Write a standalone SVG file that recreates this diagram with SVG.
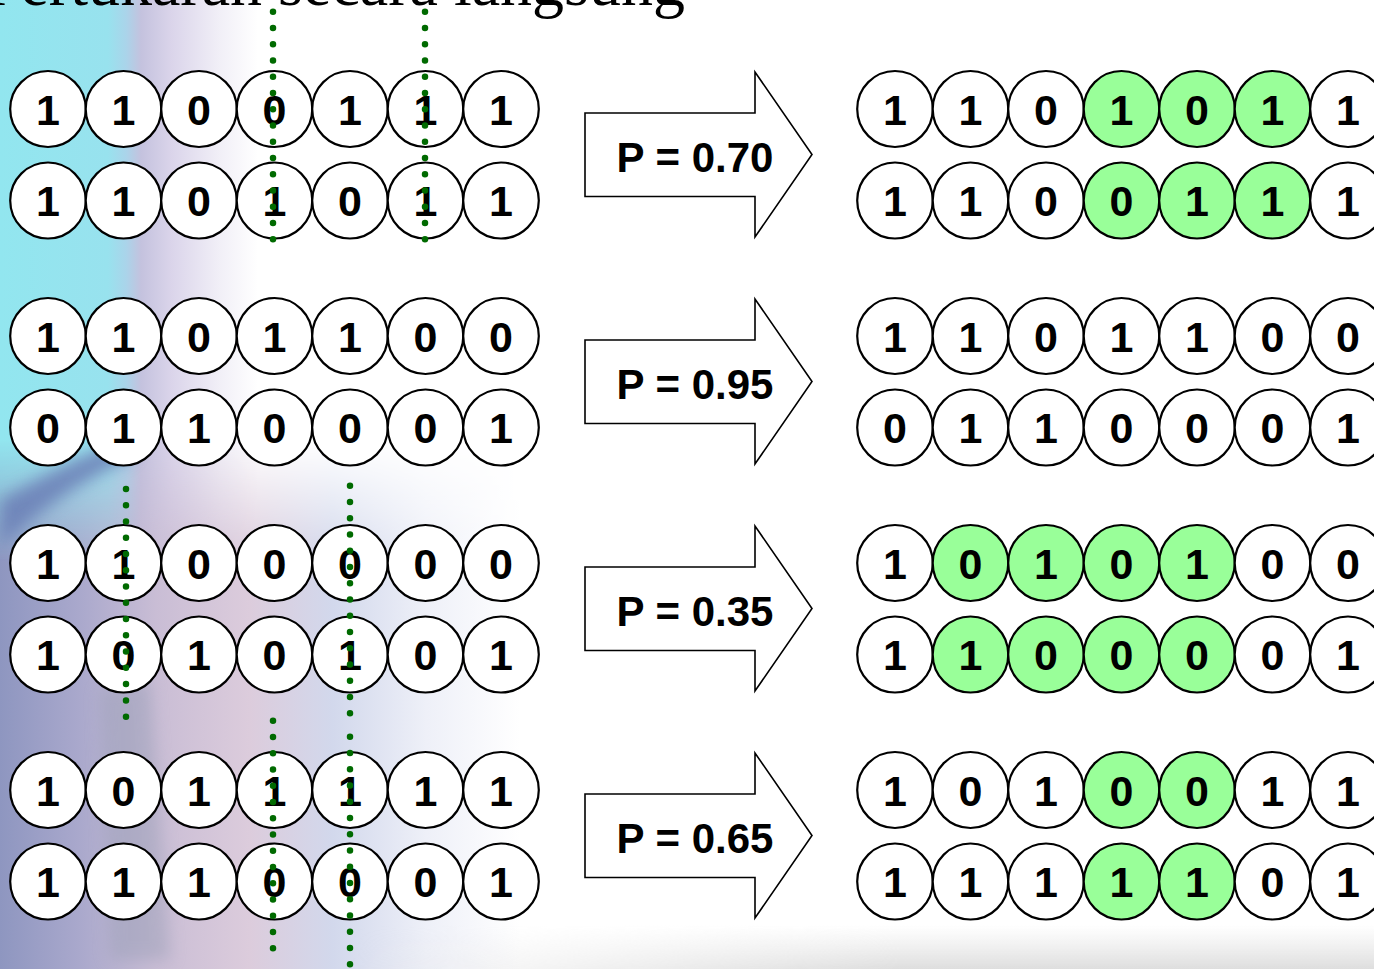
<svg xmlns="http://www.w3.org/2000/svg" width="1374" height="969" viewBox="0 0 1374 969">
<style>
.c{fill:#fff;stroke:#000;stroke-width:2.2}
.g{fill:#99FF99;stroke:#000;stroke-width:2.2}
.d{font-family:"Liberation Sans",Arial,sans-serif;font-weight:bold;font-size:43px;text-anchor:middle;fill:#000}
.arr{fill:#fff;stroke:#000;stroke-width:1.6}
.pt{font-family:"Liberation Sans",Arial,sans-serif;font-weight:bold;font-size:42px;text-anchor:middle;fill:#000}
.dot{fill:none;stroke:#006A00;stroke-width:6.5;stroke-linecap:round;stroke-dasharray:0 16.26}
.title{font-family:"Liberation Serif","Times New Roman",serif;font-size:64px;fill:#000}
</style>
<defs>
<linearGradient id="gTop" gradientUnits="userSpaceOnUse" x1="0" y1="0" x2="300" y2="0">
<stop offset="0" stop-color="#92E6EF"/>
<stop offset="0.36" stop-color="#98E2EE"/>
<stop offset="0.42" stop-color="#AAD4EA"/>
<stop offset="0.47" stop-color="#C4C2DE"/>
<stop offset="0.57" stop-color="#DAD4EA"/>
<stop offset="0.73" stop-color="#F1EFF7"/>
<stop offset="0.86" stop-color="#FFFFFF"/>
</linearGradient>
<linearGradient id="gBot" gradientUnits="userSpaceOnUse" x1="0" y1="0" x2="520" y2="0">
<stop offset="0" stop-color="#8E96C0"/>
<stop offset="0.15" stop-color="#A9A8CC"/>
<stop offset="0.3" stop-color="#C9BDD5"/>
<stop offset="0.48" stop-color="#DCCCDC"/>
<stop offset="0.64" stop-color="#D2D8EC"/>
<stop offset="0.82" stop-color="#EEF0F8"/>
<stop offset="1" stop-color="#FFFFFF"/>
</linearGradient>
<linearGradient id="fadeV" gradientUnits="userSpaceOnUse" x1="0" y1="440" x2="0" y2="560">
<stop offset="0" stop-color="#fff" stop-opacity="0"/>
<stop offset="1" stop-color="#fff" stop-opacity="1"/>
</linearGradient>
<mask id="mBot"><rect x="0" y="420" width="700" height="560" fill="url(#fadeV)"/></mask>
<linearGradient id="gStrip" x1="0" y1="0" x2="0" y2="1">
<stop offset="0" stop-color="#E4E4E4" stop-opacity="0"/>
<stop offset="1" stop-color="#DEDEDE" stop-opacity="1"/>
</linearGradient>
<linearGradient id="fadeH" gradientUnits="userSpaceOnUse" x1="350" y1="0" x2="900" y2="0">
<stop offset="0" stop-color="#fff" stop-opacity="0"/>
<stop offset="1" stop-color="#fff" stop-opacity="1"/>
</linearGradient>
<mask id="mStrip"><rect x="0" y="900" width="1374" height="69" fill="url(#fadeH)"/></mask>
<filter id="blur" x="-50%" y="-50%" width="200%" height="200%"><feGaussianBlur stdDeviation="8"/></filter>
</defs>

<g id="background">
<rect width="1374" height="969" fill="#fff"/>
<rect x="0" y="0" width="400" height="580" fill="url(#gTop)"/>
<rect x="0" y="420" width="600" height="549" fill="url(#gBot)" mask="url(#mBot)"/>
<path d="M0,500 C40,478 80,455 125,440 L135,456 C90,476 45,505 0,548 Z" fill="#6A7EB6" filter="url(#blur)" opacity="0.85"/>
<path d="M100,690 L150,680 L170,960 L110,960 Z" fill="#9CA0B8" filter="url(#blur)" opacity="0.5"/>
<rect x="0" y="925" width="1374" height="44" fill="url(#gStrip)" mask="url(#mStrip)"/>
</g>

<text class="title" x="685" y="5" text-anchor="end">Pertukaran secara langsung</text>

<g id="pair1-left">
<g id="p1-a-0"><ellipse class="c" cx="48" cy="109" rx="37.8" ry="38"/><text class="d" x="48" y="124.5">1</text></g>
<g id="p1-a-1"><ellipse class="c" cx="123.5" cy="109" rx="37.8" ry="38"/><text class="d" x="123.5" y="124.5">1</text></g>
<g id="p1-a-2"><ellipse class="c" cx="199" cy="109" rx="37.8" ry="38"/><text class="d" x="199" y="124.5">0</text></g>
<g id="p1-a-3"><ellipse class="c" cx="274.5" cy="109" rx="37.8" ry="38"/><text class="d" x="274.5" y="124.5">0</text></g>
<g id="p1-a-4"><ellipse class="c" cx="350" cy="109" rx="37.8" ry="38"/><text class="d" x="350" y="124.5">1</text></g>
<g id="p1-a-5"><ellipse class="c" cx="425.5" cy="109" rx="37.8" ry="38"/><text class="d" x="425.5" y="124.5">1</text></g>
<g id="p1-a-6"><ellipse class="c" cx="501" cy="109" rx="37.8" ry="38"/><text class="d" x="501" y="124.5">1</text></g>
<g id="p1-b-0"><ellipse class="c" cx="48" cy="200.5" rx="37.8" ry="38"/><text class="d" x="48" y="216">1</text></g>
<g id="p1-b-1"><ellipse class="c" cx="123.5" cy="200.5" rx="37.8" ry="38"/><text class="d" x="123.5" y="216">1</text></g>
<g id="p1-b-2"><ellipse class="c" cx="199" cy="200.5" rx="37.8" ry="38"/><text class="d" x="199" y="216">0</text></g>
<g id="p1-b-3"><ellipse class="c" cx="274.5" cy="200.5" rx="37.8" ry="38"/><text class="d" x="274.5" y="216">1</text></g>
<g id="p1-b-4"><ellipse class="c" cx="350" cy="200.5" rx="37.8" ry="38"/><text class="d" x="350" y="216">0</text></g>
<g id="p1-b-5"><ellipse class="c" cx="425.5" cy="200.5" rx="37.8" ry="38"/><text class="d" x="425.5" y="216">1</text></g>
<g id="p1-b-6"><ellipse class="c" cx="501" cy="200.5" rx="37.8" ry="38"/><text class="d" x="501" y="216">1</text></g>
</g>

<g id="pair2-left">
<g id="p2-a-0"><ellipse class="c" cx="48" cy="336" rx="37.8" ry="38"/><text class="d" x="48" y="351.5">1</text></g>
<g id="p2-a-1"><ellipse class="c" cx="123.5" cy="336" rx="37.8" ry="38"/><text class="d" x="123.5" y="351.5">1</text></g>
<g id="p2-a-2"><ellipse class="c" cx="199" cy="336" rx="37.8" ry="38"/><text class="d" x="199" y="351.5">0</text></g>
<g id="p2-a-3"><ellipse class="c" cx="274.5" cy="336" rx="37.8" ry="38"/><text class="d" x="274.5" y="351.5">1</text></g>
<g id="p2-a-4"><ellipse class="c" cx="350" cy="336" rx="37.8" ry="38"/><text class="d" x="350" y="351.5">1</text></g>
<g id="p2-a-5"><ellipse class="c" cx="425.5" cy="336" rx="37.8" ry="38"/><text class="d" x="425.5" y="351.5">0</text></g>
<g id="p2-a-6"><ellipse class="c" cx="501" cy="336" rx="37.8" ry="38"/><text class="d" x="501" y="351.5">0</text></g>
<g id="p2-b-0"><ellipse class="c" cx="48" cy="427.5" rx="37.8" ry="38"/><text class="d" x="48" y="443">0</text></g>
<g id="p2-b-1"><ellipse class="c" cx="123.5" cy="427.5" rx="37.8" ry="38"/><text class="d" x="123.5" y="443">1</text></g>
<g id="p2-b-2"><ellipse class="c" cx="199" cy="427.5" rx="37.8" ry="38"/><text class="d" x="199" y="443">1</text></g>
<g id="p2-b-3"><ellipse class="c" cx="274.5" cy="427.5" rx="37.8" ry="38"/><text class="d" x="274.5" y="443">0</text></g>
<g id="p2-b-4"><ellipse class="c" cx="350" cy="427.5" rx="37.8" ry="38"/><text class="d" x="350" y="443">0</text></g>
<g id="p2-b-5"><ellipse class="c" cx="425.5" cy="427.5" rx="37.8" ry="38"/><text class="d" x="425.5" y="443">0</text></g>
<g id="p2-b-6"><ellipse class="c" cx="501" cy="427.5" rx="37.8" ry="38"/><text class="d" x="501" y="443">1</text></g>
</g>

<g id="pair3-left">
<g id="p3-a-0"><ellipse class="c" cx="48" cy="563" rx="37.8" ry="38"/><text class="d" x="48" y="578.5">1</text></g>
<g id="p3-a-1"><ellipse class="c" cx="123.5" cy="563" rx="37.8" ry="38"/><text class="d" x="123.5" y="578.5">1</text></g>
<g id="p3-a-2"><ellipse class="c" cx="199" cy="563" rx="37.8" ry="38"/><text class="d" x="199" y="578.5">0</text></g>
<g id="p3-a-3"><ellipse class="c" cx="274.5" cy="563" rx="37.8" ry="38"/><text class="d" x="274.5" y="578.5">0</text></g>
<g id="p3-a-4"><ellipse class="c" cx="350" cy="563" rx="37.8" ry="38"/><text class="d" x="350" y="578.5">0</text></g>
<g id="p3-a-5"><ellipse class="c" cx="425.5" cy="563" rx="37.8" ry="38"/><text class="d" x="425.5" y="578.5">0</text></g>
<g id="p3-a-6"><ellipse class="c" cx="501" cy="563" rx="37.8" ry="38"/><text class="d" x="501" y="578.5">0</text></g>
<g id="p3-b-0"><ellipse class="c" cx="48" cy="654.5" rx="37.8" ry="38"/><text class="d" x="48" y="670">1</text></g>
<g id="p3-b-1"><ellipse class="c" cx="123.5" cy="654.5" rx="37.8" ry="38"/><text class="d" x="123.5" y="670">0</text></g>
<g id="p3-b-2"><ellipse class="c" cx="199" cy="654.5" rx="37.8" ry="38"/><text class="d" x="199" y="670">1</text></g>
<g id="p3-b-3"><ellipse class="c" cx="274.5" cy="654.5" rx="37.8" ry="38"/><text class="d" x="274.5" y="670">0</text></g>
<g id="p3-b-4"><ellipse class="c" cx="350" cy="654.5" rx="37.8" ry="38"/><text class="d" x="350" y="670">1</text></g>
<g id="p3-b-5"><ellipse class="c" cx="425.5" cy="654.5" rx="37.8" ry="38"/><text class="d" x="425.5" y="670">0</text></g>
<g id="p3-b-6"><ellipse class="c" cx="501" cy="654.5" rx="37.8" ry="38"/><text class="d" x="501" y="670">1</text></g>
</g>

<g id="pair4-left">
<g id="p4-a-0"><ellipse class="c" cx="48" cy="790" rx="37.8" ry="38"/><text class="d" x="48" y="805.5">1</text></g>
<g id="p4-a-1"><ellipse class="c" cx="123.5" cy="790" rx="37.8" ry="38"/><text class="d" x="123.5" y="805.5">0</text></g>
<g id="p4-a-2"><ellipse class="c" cx="199" cy="790" rx="37.8" ry="38"/><text class="d" x="199" y="805.5">1</text></g>
<g id="p4-a-3"><ellipse class="c" cx="274.5" cy="790" rx="37.8" ry="38"/><text class="d" x="274.5" y="805.5">1</text></g>
<g id="p4-a-4"><ellipse class="c" cx="350" cy="790" rx="37.8" ry="38"/><text class="d" x="350" y="805.5">1</text></g>
<g id="p4-a-5"><ellipse class="c" cx="425.5" cy="790" rx="37.8" ry="38"/><text class="d" x="425.5" y="805.5">1</text></g>
<g id="p4-a-6"><ellipse class="c" cx="501" cy="790" rx="37.8" ry="38"/><text class="d" x="501" y="805.5">1</text></g>
<g id="p4-b-0"><ellipse class="c" cx="48" cy="881.5" rx="37.8" ry="38"/><text class="d" x="48" y="897">1</text></g>
<g id="p4-b-1"><ellipse class="c" cx="123.5" cy="881.5" rx="37.8" ry="38"/><text class="d" x="123.5" y="897">1</text></g>
<g id="p4-b-2"><ellipse class="c" cx="199" cy="881.5" rx="37.8" ry="38"/><text class="d" x="199" y="897">1</text></g>
<g id="p4-b-3"><ellipse class="c" cx="274.5" cy="881.5" rx="37.8" ry="38"/><text class="d" x="274.5" y="897">0</text></g>
<g id="p4-b-4"><ellipse class="c" cx="350" cy="881.5" rx="37.8" ry="38"/><text class="d" x="350" y="897">0</text></g>
<g id="p4-b-5"><ellipse class="c" cx="425.5" cy="881.5" rx="37.8" ry="38"/><text class="d" x="425.5" y="897">0</text></g>
<g id="p4-b-6"><ellipse class="c" cx="501" cy="881.5" rx="37.8" ry="38"/><text class="d" x="501" y="897">1</text></g>
</g>

<g id="cut-lines">
<line class="dot" x1="273" y1="11.7" x2="273" y2="239.5"/>
<line class="dot" x1="425" y1="11.7" x2="425" y2="239.5"/>
<line class="dot" x1="126" y1="489" x2="126" y2="717"/>
<line class="dot" x1="350" y1="485.7" x2="350" y2="713.5"/>
<line class="dot" x1="273" y1="720.7" x2="273" y2="948.5"/>
<line class="dot" x1="350" y1="736.7" x2="350" y2="964.5"/>
</g>

<g id="arrow1"><path class="arr" d="M585,113 H755 V72 L812,154.5 L755,237 V196.5 H585 Z"/><text class="pt" x="695" y="172">P = 0.70</text></g>
<g id="arrow2"><path class="arr" d="M585,340 H755 V299 L812,381.5 L755,464 V423.5 H585 Z"/><text class="pt" x="695" y="399">P = 0.95</text></g>
<g id="arrow3"><path class="arr" d="M585,567 H755 V526 L812,608.5 L755,691 V650.5 H585 Z"/><text class="pt" x="695" y="626">P = 0.35</text></g>
<g id="arrow4"><path class="arr" d="M585,794 H755 V753 L812,835.5 L755,918 V877.5 H585 Z"/><text class="pt" x="695" y="853">P = 0.65</text></g>

<g id="pair1-right">
<g id="q1-a-0"><ellipse class="c" cx="895" cy="109" rx="37.8" ry="38"/><text class="d" x="895" y="124.5">1</text></g>
<g id="q1-a-1"><ellipse class="c" cx="970.5" cy="109" rx="37.8" ry="38"/><text class="d" x="970.5" y="124.5">1</text></g>
<g id="q1-a-2"><ellipse class="c" cx="1046" cy="109" rx="37.8" ry="38"/><text class="d" x="1046" y="124.5">0</text></g>
<g id="q1-a-3"><ellipse class="g" cx="1121.5" cy="109" rx="37.8" ry="38"/><text class="d" x="1121.5" y="124.5">1</text></g>
<g id="q1-a-4"><ellipse class="g" cx="1197" cy="109" rx="37.8" ry="38"/><text class="d" x="1197" y="124.5">0</text></g>
<g id="q1-a-5"><ellipse class="g" cx="1272.5" cy="109" rx="37.8" ry="38"/><text class="d" x="1272.5" y="124.5">1</text></g>
<g id="q1-a-6"><ellipse class="c" cx="1348" cy="109" rx="37.8" ry="38"/><text class="d" x="1348" y="124.5">1</text></g>
<g id="q1-b-0"><ellipse class="c" cx="895" cy="200.5" rx="37.8" ry="38"/><text class="d" x="895" y="216">1</text></g>
<g id="q1-b-1"><ellipse class="c" cx="970.5" cy="200.5" rx="37.8" ry="38"/><text class="d" x="970.5" y="216">1</text></g>
<g id="q1-b-2"><ellipse class="c" cx="1046" cy="200.5" rx="37.8" ry="38"/><text class="d" x="1046" y="216">0</text></g>
<g id="q1-b-3"><ellipse class="g" cx="1121.5" cy="200.5" rx="37.8" ry="38"/><text class="d" x="1121.5" y="216">0</text></g>
<g id="q1-b-4"><ellipse class="g" cx="1197" cy="200.5" rx="37.8" ry="38"/><text class="d" x="1197" y="216">1</text></g>
<g id="q1-b-5"><ellipse class="g" cx="1272.5" cy="200.5" rx="37.8" ry="38"/><text class="d" x="1272.5" y="216">1</text></g>
<g id="q1-b-6"><ellipse class="c" cx="1348" cy="200.5" rx="37.8" ry="38"/><text class="d" x="1348" y="216">1</text></g>
</g>

<g id="pair2-right">
<g id="q2-a-0"><ellipse class="c" cx="895" cy="336" rx="37.8" ry="38"/><text class="d" x="895" y="351.5">1</text></g>
<g id="q2-a-1"><ellipse class="c" cx="970.5" cy="336" rx="37.8" ry="38"/><text class="d" x="970.5" y="351.5">1</text></g>
<g id="q2-a-2"><ellipse class="c" cx="1046" cy="336" rx="37.8" ry="38"/><text class="d" x="1046" y="351.5">0</text></g>
<g id="q2-a-3"><ellipse class="c" cx="1121.5" cy="336" rx="37.8" ry="38"/><text class="d" x="1121.5" y="351.5">1</text></g>
<g id="q2-a-4"><ellipse class="c" cx="1197" cy="336" rx="37.8" ry="38"/><text class="d" x="1197" y="351.5">1</text></g>
<g id="q2-a-5"><ellipse class="c" cx="1272.5" cy="336" rx="37.8" ry="38"/><text class="d" x="1272.5" y="351.5">0</text></g>
<g id="q2-a-6"><ellipse class="c" cx="1348" cy="336" rx="37.8" ry="38"/><text class="d" x="1348" y="351.5">0</text></g>
<g id="q2-b-0"><ellipse class="c" cx="895" cy="427.5" rx="37.8" ry="38"/><text class="d" x="895" y="443">0</text></g>
<g id="q2-b-1"><ellipse class="c" cx="970.5" cy="427.5" rx="37.8" ry="38"/><text class="d" x="970.5" y="443">1</text></g>
<g id="q2-b-2"><ellipse class="c" cx="1046" cy="427.5" rx="37.8" ry="38"/><text class="d" x="1046" y="443">1</text></g>
<g id="q2-b-3"><ellipse class="c" cx="1121.5" cy="427.5" rx="37.8" ry="38"/><text class="d" x="1121.5" y="443">0</text></g>
<g id="q2-b-4"><ellipse class="c" cx="1197" cy="427.5" rx="37.8" ry="38"/><text class="d" x="1197" y="443">0</text></g>
<g id="q2-b-5"><ellipse class="c" cx="1272.5" cy="427.5" rx="37.8" ry="38"/><text class="d" x="1272.5" y="443">0</text></g>
<g id="q2-b-6"><ellipse class="c" cx="1348" cy="427.5" rx="37.8" ry="38"/><text class="d" x="1348" y="443">1</text></g>
</g>

<g id="pair3-right">
<g id="q3-a-0"><ellipse class="c" cx="895" cy="563" rx="37.8" ry="38"/><text class="d" x="895" y="578.5">1</text></g>
<g id="q3-a-1"><ellipse class="g" cx="970.5" cy="563" rx="37.8" ry="38"/><text class="d" x="970.5" y="578.5">0</text></g>
<g id="q3-a-2"><ellipse class="g" cx="1046" cy="563" rx="37.8" ry="38"/><text class="d" x="1046" y="578.5">1</text></g>
<g id="q3-a-3"><ellipse class="g" cx="1121.5" cy="563" rx="37.8" ry="38"/><text class="d" x="1121.5" y="578.5">0</text></g>
<g id="q3-a-4"><ellipse class="g" cx="1197" cy="563" rx="37.8" ry="38"/><text class="d" x="1197" y="578.5">1</text></g>
<g id="q3-a-5"><ellipse class="c" cx="1272.5" cy="563" rx="37.8" ry="38"/><text class="d" x="1272.5" y="578.5">0</text></g>
<g id="q3-a-6"><ellipse class="c" cx="1348" cy="563" rx="37.8" ry="38"/><text class="d" x="1348" y="578.5">0</text></g>
<g id="q3-b-0"><ellipse class="c" cx="895" cy="654.5" rx="37.8" ry="38"/><text class="d" x="895" y="670">1</text></g>
<g id="q3-b-1"><ellipse class="g" cx="970.5" cy="654.5" rx="37.8" ry="38"/><text class="d" x="970.5" y="670">1</text></g>
<g id="q3-b-2"><ellipse class="g" cx="1046" cy="654.5" rx="37.8" ry="38"/><text class="d" x="1046" y="670">0</text></g>
<g id="q3-b-3"><ellipse class="g" cx="1121.5" cy="654.5" rx="37.8" ry="38"/><text class="d" x="1121.5" y="670">0</text></g>
<g id="q3-b-4"><ellipse class="g" cx="1197" cy="654.5" rx="37.8" ry="38"/><text class="d" x="1197" y="670">0</text></g>
<g id="q3-b-5"><ellipse class="c" cx="1272.5" cy="654.5" rx="37.8" ry="38"/><text class="d" x="1272.5" y="670">0</text></g>
<g id="q3-b-6"><ellipse class="c" cx="1348" cy="654.5" rx="37.8" ry="38"/><text class="d" x="1348" y="670">1</text></g>
</g>

<g id="pair4-right">
<g id="q4-a-0"><ellipse class="c" cx="895" cy="790" rx="37.8" ry="38"/><text class="d" x="895" y="805.5">1</text></g>
<g id="q4-a-1"><ellipse class="c" cx="970.5" cy="790" rx="37.8" ry="38"/><text class="d" x="970.5" y="805.5">0</text></g>
<g id="q4-a-2"><ellipse class="c" cx="1046" cy="790" rx="37.8" ry="38"/><text class="d" x="1046" y="805.5">1</text></g>
<g id="q4-a-3"><ellipse class="g" cx="1121.5" cy="790" rx="37.8" ry="38"/><text class="d" x="1121.5" y="805.5">0</text></g>
<g id="q4-a-4"><ellipse class="g" cx="1197" cy="790" rx="37.8" ry="38"/><text class="d" x="1197" y="805.5">0</text></g>
<g id="q4-a-5"><ellipse class="c" cx="1272.5" cy="790" rx="37.8" ry="38"/><text class="d" x="1272.5" y="805.5">1</text></g>
<g id="q4-a-6"><ellipse class="c" cx="1348" cy="790" rx="37.8" ry="38"/><text class="d" x="1348" y="805.5">1</text></g>
<g id="q4-b-0"><ellipse class="c" cx="895" cy="881.5" rx="37.8" ry="38"/><text class="d" x="895" y="897">1</text></g>
<g id="q4-b-1"><ellipse class="c" cx="970.5" cy="881.5" rx="37.8" ry="38"/><text class="d" x="970.5" y="897">1</text></g>
<g id="q4-b-2"><ellipse class="c" cx="1046" cy="881.5" rx="37.8" ry="38"/><text class="d" x="1046" y="897">1</text></g>
<g id="q4-b-3"><ellipse class="g" cx="1121.5" cy="881.5" rx="37.8" ry="38"/><text class="d" x="1121.5" y="897">1</text></g>
<g id="q4-b-4"><ellipse class="g" cx="1197" cy="881.5" rx="37.8" ry="38"/><text class="d" x="1197" y="897">1</text></g>
<g id="q4-b-5"><ellipse class="c" cx="1272.5" cy="881.5" rx="37.8" ry="38"/><text class="d" x="1272.5" y="897">0</text></g>
<g id="q4-b-6"><ellipse class="c" cx="1348" cy="881.5" rx="37.8" ry="38"/><text class="d" x="1348" y="897">1</text></g>
</g>
</svg>
